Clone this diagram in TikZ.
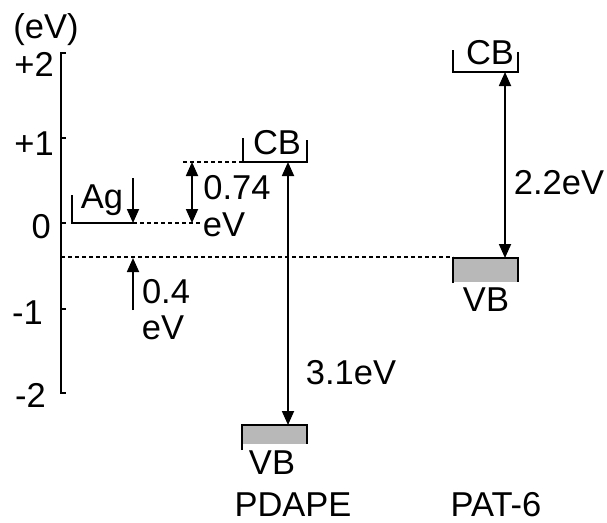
\documentclass[tikz,border=0pt]{standalone}
\usepackage{fontspec}
\setmainfont{Liberation Sans}
\usetikzlibrary{arrows.meta}
\begin{document}
\begin{tikzpicture}[x=1pt,y=-1pt,
  lbl/.style={inner sep=0pt,font=\fontsize{34.5}{38}\selectfont},
  ln/.style={line width=1.8pt},
  dsh/.style={line width=1.7pt,dash pattern=on 4pt off 3pt},
  tipend/.style={-{Triangle[length=14pt,width=12pt]}},
  tipboth/.style={{Triangle[length=14pt,width=12pt]}-{Triangle[length=14pt,width=12pt]}},
  band/.style={fill=black!28}]
\useasboundingbox (0,0) rectangle (607,522);
% axis
\coordinate (atop) at (61,53);
\coordinate (abot) at (61,393);
\draw[line width=2.2pt] (66,53) -- (atop) -- (abot) -- (66,393);
\foreach \yy in {138,223,309} \draw[line width=1.8pt] (61,\yy) -- (66,\yy);
\node[lbl] (unit) at (46,30) {(eV)};
\node[lbl,anchor=east] (t2) at (54,64) {+2};
\node[lbl,anchor=east] (t1) at (54,144) {+1};
\node[lbl,anchor=east] (t0) at (51,227) {0};
\node[lbl,anchor=east] (tm1) at (43,313) {-1};
\node[lbl,anchor=east] (tm2) at (46,395) {-2};
% Ag
\coordinate (agl) at (72,195);
\coordinate (ag0) at (72,223);
\coordinate (agf) at (133,223);
\coordinate (agtop) at (133,178);
\coordinate (agend) at (200,223);
\draw[ln] (agl) -- (ag0) -- (agf);
\draw[dsh] (agf) -- (agend);
\draw[ln,tipend] (agtop) -- (agf);
\node[lbl,anchor=base] (ag) at (102,208) {Ag};
% 0.74 eV
\coordinate (c74a) at (192,162);
\coordinate (c74b) at (192,223);
\coordinate (d74a) at (183,162);
\draw[ln,tipboth] (c74a) -- (c74b);
\node[lbl,anchor=base] (l74) at (237,199) {0.74};
\node[lbl,anchor=base] (l74e) at (224,236) {eV};
% PDAPE CB
\coordinate (pcbl) at (243,138);
\coordinate (pcb0) at (243,162);
\coordinate (pcb1) at (307,162);
\coordinate (pcbr) at (307,140);
\draw[dsh] (d74a) -- (pcb0);
\draw[ln] (pcbl) -- (pcb0) -- (pcb1) -- (pcbr);
\node[lbl,anchor=base] (pcb) at (277,154) {CB};
% PDAPE VB
\fill[band] (242,425) rectangle (307,444);
\coordinate (pvbl) at (242,450);
\coordinate (pvb0) at (242,425);
\coordinate (pvb1) at (307,425);
\coordinate (pvbr) at (307,444);
\draw[ln] (pvbl) -- (pvb0) -- (pvb1) -- (pvbr);
\node[lbl,anchor=base] (pvb) at (272,474) {VB};
\coordinate (pgapt) at (288,162);
\coordinate (pgapb) at (288,425);
\draw[ln,tipboth] (pgapt) -- (pgapb);
\node[lbl,anchor=base] (l31) at (351,384) {3.1eV};
\node[lbl,anchor=base] (pdape) at (293,516) {PDAPE};
% -0.4 level
\coordinate (d04a) at (61,257);
\coordinate (d04b) at (453,257);
\draw[dsh] (d04a) -- (d04b);
\coordinate (a04a) at (133,310);
\coordinate (a04b) at (133,258);
\draw[ln,tipend] (a04a) -- (a04b);
\node[lbl,anchor=base] (l04) at (166,303) {0.4};
\node[lbl,anchor=base] (l04e) at (163,339) {eV};
% PAT-6 CB
\coordinate (acbl) at (453,50);
\coordinate (acb0) at (453,72);
\coordinate (acb1) at (518,72);
\coordinate (acbr) at (518,52);
\draw[ln] (acbl) -- (acb0) -- (acb1) -- (acbr);
\node[lbl,anchor=base] (acb) at (490,64) {CB};
% PAT-6 VB
\fill[band] (453,258) rectangle (518,282);
\coordinate (avbl) at (453,283);
\coordinate (avb0) at (453,258);
\coordinate (avb1) at (518,258);
\coordinate (avbr) at (518,282);
\draw[ln] (avbl) -- (avb0) -- (avb1) -- (avbr);
\node[lbl,anchor=base] (avb) at (486,311) {VB};
\coordinate (agapt) at (505,72);
\coordinate (agapb) at (505,258);
\draw[ln,tipboth] (agapt) -- (agapb);
\node[lbl,anchor=base] (l22) at (559,194) {2.2eV};
\node[lbl,anchor=base] (pat) at (496,516) {PAT-6};
\end{tikzpicture}
\end{document}
